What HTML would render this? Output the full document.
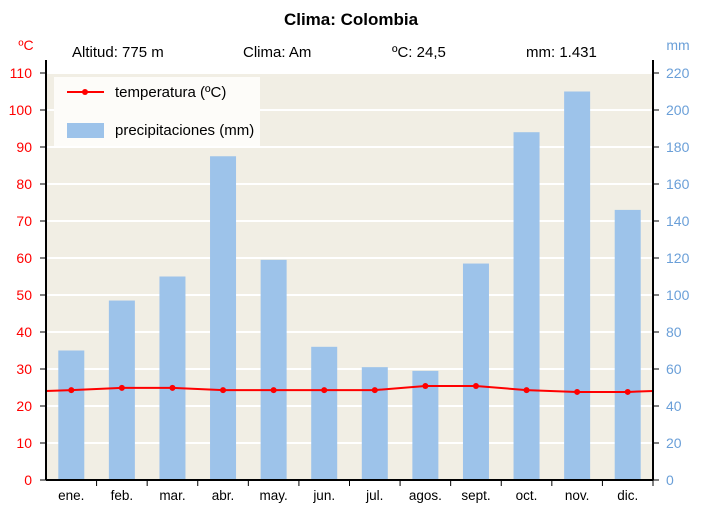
<!DOCTYPE html>
<html><head><meta charset="utf-8"><style>
body{margin:0;background:#fff}
text{font-family:"Liberation Sans",sans-serif}
</style></head><body>
<svg id="c" width="702" height="520" xmlns="http://www.w3.org/2000/svg">
<text x="351" y="25" text-anchor="middle" font-size="17" font-weight="bold">Clima: Colombia</text>
<text x="72" y="57" font-size="15">Altitud: 775 m</text>
<text x="243" y="57" font-size="15">Clima: Am</text>
<text x="392" y="57" font-size="15">ºC: 24,5</text>
<text x="526" y="57" font-size="15">mm: 1.431</text>
<text x="26" y="50" fill="#f00" font-size="14" text-anchor="middle">ºC</text>
<text x="678" y="50" fill="#6a9fd8" font-size="14" text-anchor="middle">mm</text>
<rect x="46" y="73" width="607" height="407" fill="#f1eee4"/>
<g id="grid"></g><g id="bars"></g><g id="line"></g><g id="axes"></g>
<g>
<rect x="54" y="77" width="206" height="69" fill="#fdfcf9"/>
<line x1="67" y1="92" x2="104" y2="92" stroke="#f00" stroke-width="2"/>
<circle cx="85" cy="92" r="3" fill="#f00"/>
<text x="115" y="97" font-size="15">temperatura (ºC)</text>
<rect x="67" y="123" width="37" height="15" fill="#9dc3ea"/>
<text x="115" y="135" font-size="15">precipitaciones (mm)</text>
</g>
</svg>
<script>
const months=["ene.","feb.","mar.","abr.","may.","jun.","jul.","agos.","sept.","oct.","nov.","dic."];
const precip=[70,97,110,175,119,72,61,59,117,188,210,146];
const temp=[24.3,24.9,24.9,24.3,24.3,24.3,24.3,25.4,25.4,24.3,23.8,23.8];
const tTicks=[0,10,20,30,40,50,60,70,80,90,100,110];
const pTicks=[0,20,40,60,80,100,120,140,160,180,200,220];
const NS="http://www.w3.org/2000/svg";
const L=46,R=653,B=480,T=73;
const yT=v=>B-(v/110)*(B-T);
const yP=v=>B-(v/220)*(B-T);
const bw=(R-L)/12;
const xC=i=>L+bw*(i+0.5);
function mk(p,tag,a){const e=document.createElementNS(NS,tag);for(const k in a)e.setAttribute(k,a[k]);document.getElementById(p).appendChild(e);return e;}
tTicks.forEach((t,i)=>{
 if(t>0){const g=mk("grid","line",{x1:L,x2:R,y1:yT(t),y2:yT(t),stroke:"#fff","stroke-width":2});
 
 }
 const a=mk("axes","line",{x1:L-6,x2:L,y1:yT(t),y2:yT(t),stroke:"#000"});
 
 
 const tx=mk("axes","text",{x:32,y:yT(t)+5,"text-anchor":"end",fill:"#f00","font-size":14});tx.textContent=t;
 
 
});
pTicks.forEach(p=>{
 const a=mk("axes","line",{x1:R,x2:R+6,y1:yP(p),y2:yP(p),stroke:"#000"});
 
 
 const tx=mk("axes","text",{x:666,y:yP(p)+5,fill:"#6a9fd8","font-size":14});tx.textContent=p;
 
 
});
precip.forEach((p,i)=>{
 const r=mk("bars","rect",{x:xC(i)-13,y:yP(p),width:26,height:B-yP(p),fill:"#9dc3ea"});
 
 
 const tk=mk("axes","line",{x1:L+bw*(i+1),x2:L+bw*(i+1),y1:B,y2:B+6,stroke:"#000"});
 
 
 const tx=mk("axes","text",{x:xC(i),y:500,"text-anchor":"middle","font-size":13.5});tx.textContent=months[i];
 
 
});
let pts=[[L,yT((temp[0]+temp[11])/2)]];
temp.forEach((t,i)=>pts.push([xC(i),yT(t)]));
pts.push([R,yT((temp[0]+temp[11])/2)]);
const pl=mk("line","polyline",{points:pts.map(p=>p.join(",")).join(" "),fill:"none",stroke:"#f00","stroke-width":2});


temp.forEach((t,i)=>{
 const c=mk("line","circle",{cx:xC(i),cy:yT(t),r:3,fill:"#f00"});
 
 
});
[["left-axis",L,60,L,B],["right-axis",R,60,R,B],["x-axis",L,B,R,B]].forEach(a=>{
 const l=mk("axes","line",{x1:a[1],y1:a[2],x2:a[3],y2:a[4],stroke:"#000","stroke-width":2});
 
 
});
</script>
</body></html>
